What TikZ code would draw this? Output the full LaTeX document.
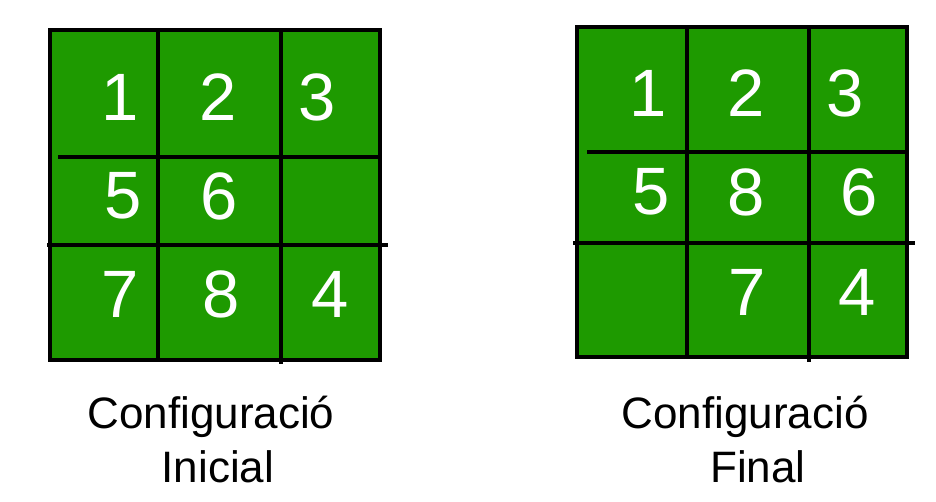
\documentclass[tikz,border=0pt]{standalone}
\usepackage{fontspec}
\usetikzlibrary{positioning}
\newfontfamily\puzzlesans{Liberation Sans}
\definecolor{pzGreen}{HTML}{1E9A00}
\tikzset{
  board/.style={fill=pzGreen, draw=black, line width=4.5pt},
  gridline/.style={draw=black, line width=4.2pt},
  tile/.style={font=\puzzlesans\fontsize{67}{67}\selectfont, text=white, inner sep=0pt},
  caption/.style={font=\puzzlesans\fontsize{44}{54}\selectfont, inner sep=0pt, anchor=base}
}

\begin{document}
\begin{tikzpicture}[x=1pt, y=-1pt]
  \useasboundingbox (0,0) rectangle (936,502);
  % initial board
  \draw[board] (50,30) rectangle (380,360);
  \draw[gridline] (158,30) -- (158,360);
  \draw[gridline] (281,30) -- (281,364);
  \draw[gridline] (58,157) -- (380,157);
  \draw[gridline] (47,245) -- (388,245);
  \foreach \n/\x/\y in {1/120/97, 2/218/97, 3/317/97,
                        5/123/196, 6/219/196,
                        7/120/294, 8/221/294, 4/330/294}
    \node[tile] (ini\n) at (\x,\y) {\n};
  % final board
  \draw[board] (577,27) rectangle (907,357);
  \draw[gridline] (687,27) -- (687,357);
  \draw[gridline] (809,27) -- (809,362);
  \draw[gridline] (587,152) -- (907,152);
  \draw[gridline] (573,243) -- (915,243);
  \foreach \n/\x/\y in {1/648/93, 2/746/93, 3/845/93,
                        5/651/192, 8/746/192, 6/859/192,
                        7/747/292, 4/857/292}
    \node[tile] (fin\n) at (\x,\y) {\n};
  % captions
  \node[caption] (iniCap) at (211,428) {Configuració};
  \node[caption] (iniSub) at (218,482) {Inicial};
  \node[caption] (finCap) at (745,428) {Configuració};
  \node[caption] (finSub) at (758,482) {Final};
\end{tikzpicture}
\end{document}
